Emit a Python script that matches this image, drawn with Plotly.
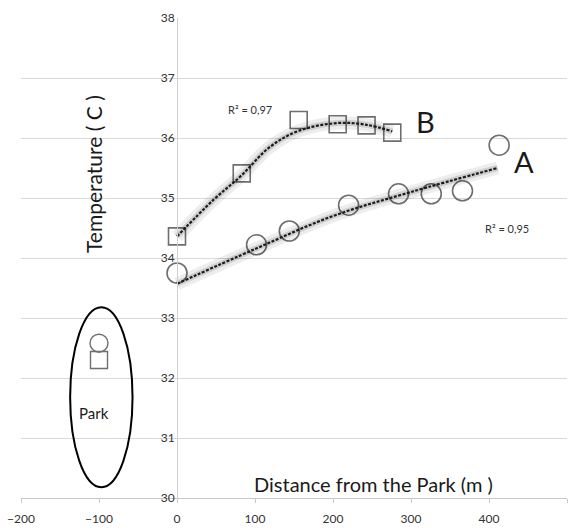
import plotly.graph_objects as go

# Site A (circles): distance from the park (m) and temperature (C)
a_dist = [0, 102, 144, 220, 284, 326, 366, 413]
a_temp = [33.75, 34.22, 34.45, 34.88, 35.07, 35.07, 35.12, 35.88]

# Site B (squares)
b_dist = [0, 83, 156, 206, 243, 276]
b_temp = [34.36, 35.41, 36.30, 36.23, 36.21, 36.09]

# Trend curves for each site
a_trend_x = [0, 100, 200, 300, 411]
a_trend_y = [33.57, 34.15, 34.70, 35.10, 35.50]
b_trend_x = [0, 46, 83, 119, 156, 206, 243, 276]
b_trend_y = [34.36, 34.96, 35.38, 35.85, 36.12, 36.25, 36.22, 36.11]

# Readings inside the park
park_circle_dist = [-100]
park_circle_temp = [32.58]
park_square_dist = [-100]
park_square_temp = [32.30]

x_ticks = [-200, -100, 0, 100, 200, 300, 400, 500]
y_ticks = [30, 31, 32, 33, 34, 35, 36, 37, 38]

FONT = "Lato"
MARK = "#6e6e6e"

fig = go.Figure()

fig.add_trace(go.Scatter(
    x=a_dist, y=a_temp, mode="markers",
    marker=dict(symbol="circle-open", size=20, color=MARK, line=dict(width=1.6)),
    hoverinfo="skip"))
fig.add_trace(go.Scatter(
    x=b_dist, y=b_temp, mode="markers",
    marker=dict(symbol="square-open", size=17, color=MARK, line=dict(width=1.6)),
    hoverinfo="skip"))
fig.add_trace(go.Scatter(
    x=park_circle_dist, y=park_circle_temp, mode="markers",
    marker=dict(symbol="circle-open", size=18, color=MARK, line=dict(width=1.4)),
    hoverinfo="skip"))
fig.add_trace(go.Scatter(
    x=park_square_dist, y=park_square_temp, mode="markers",
    marker=dict(symbol="square-open", size=17, color=MARK, line=dict(width=1.4)),
    hoverinfo="skip"))

# soft shadow beneath each trend curve, then the dotted curve itself
for tx, ty in [(a_trend_x, a_trend_y), (b_trend_x, b_trend_y)]:
    fig.add_trace(go.Scatter(x=tx, y=ty, mode="lines", line_shape="spline",
                             line=dict(color="rgba(0,0,0,0.07)", width=13),
                             hoverinfo="skip"))
    fig.add_trace(go.Scatter(x=tx, y=ty, mode="lines", line_shape="spline",
                             line=dict(color="rgba(0,0,0,0.12)", width=6),
                             hoverinfo="skip"))
    fig.add_trace(go.Scatter(x=tx, y=ty, mode="lines", line_shape="spline",
                             line=dict(color="#1c1c1c", width=2.2, dash="3px,1.5px"),
                             hoverinfo="skip"))

# ellipse around the park readings
park_box = dict(x0=-137, x1=-57, y0=30.18, y1=33.18)
fig.add_shape(type="circle", xref="x", yref="y", **park_box,
              line=dict(color="black", width=2))

def label(x, y, text, size, **kw):
    fig.add_annotation(x=x, y=y, xref="x", yref="y", text=text, showarrow=False,
                       font=dict(family=FONT, size=size, color=kw.pop("color", "#1a1a1a")),
                       **kw)

label(-107.7, 35.40, "Temperature ( C )", 21, textangle=-90)
label(252, 30.23, "Distance from the Park (m )", 20)
label(-106.8, 31.42, "Park", 15)
label(319, 36.27, "B", 29)
label(445.5, 35.61, "A", 29)
label(93.6, 36.47, "R² = 0,97", 11, color="#333333")
label(423, 34.50, "R² = 0,95", 11, color="#333333")

fig.update_layout(
    width=574, height=532,
    margin=dict(l=21, r=7, t=18, b=34),
    paper_bgcolor="white", plot_bgcolor="white",
    showlegend=False,
    font=dict(family=FONT, size=12, color="#333333"),
    xaxis=dict(range=[-200, 500], tickvals=x_ticks, showgrid=False, zeroline=False,
               showline=True, linecolor="#c8c8c8", linewidth=1,
               ticks="outside", ticklen=4, tickcolor="#c8c8c8", ticklabelstandoff=6,
               tickfont=dict(family=FONT, size=12, color="#333333")),
    yaxis=dict(range=[30, 38], tickvals=y_ticks, showgrid=True, gridcolor="#d9d9d9",
               gridwidth=1.2, zeroline=False, anchor="free", position=200 / 700,
               showline=True, linecolor="#d0d0d0", linewidth=1, ticks="",
               tickfont=dict(family=FONT, size=12, color="#333333")),
)

fig.write_html("out.html")
